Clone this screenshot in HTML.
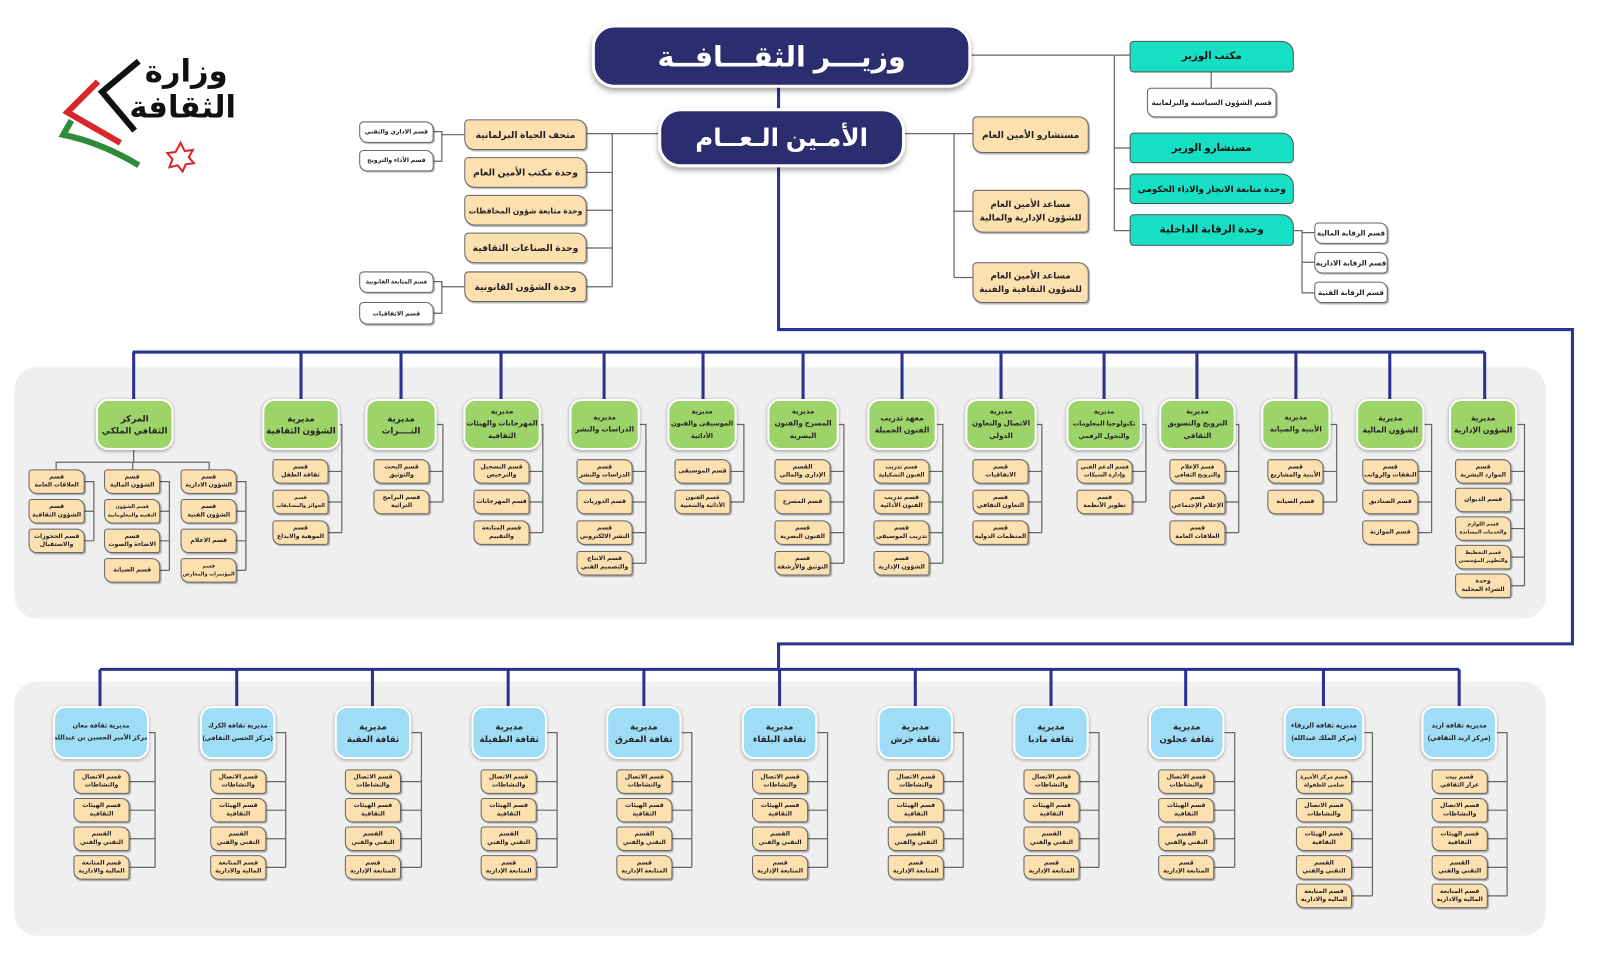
<!DOCTYPE html>
<html lang="ar"><head><meta charset="utf-8">
<style>
*{margin:0;padding:0;box-sizing:border-box}
body{width:1600px;height:957px;background:#fff;position:relative;overflow:hidden;font-family:"Liberation Sans","DejaVu Sans",sans-serif;font-weight:bold;color:#222}
#w{position:absolute;left:0;top:0;width:1568px;height:938px;transform:scale(1.0204);transform-origin:0 0}
.a{position:absolute;display:flex;align-items:center;justify-content:center;text-align:center;direction:rtl;white-space:nowrap;overflow:hidden}
.p{position:absolute;background:#efefef;border-radius:22px}
.nv{background:#2b2d6e;color:#fff;border-radius:22px;border:3px solid #fff;box-shadow:0 3px 5px rgba(0,0,0,.35);font-size:28px}
.cy{background:#16dfc4;border:1px solid #555;border-radius:4px 12px 4px 4px;font-size:10px;color:#111}
.tn{background:#fde0b0;border:1px solid #666;border-radius:4px 10px 4px 10px;font-size:9px;line-height:13px;box-shadow:1px 1px 1px rgba(0,0,0,.3)}
.wt{background:#fff;border:1px solid #666;border-radius:4px 8px 4px 8px;font-size:7px;box-shadow:1px 1px 1px rgba(0,0,0,.3)}
.g{background:#9dd46a;border:2px solid #fff;border-radius:12px;font-size:8.5px;line-height:12px;box-shadow:0 1px 3px rgba(0,0,0,.3);color:#222}
.b{background:#9fdcf6;border:2px solid #fff;border-radius:12px;font-size:8.5px;line-height:12px;box-shadow:0 1px 3px rgba(0,0,0,.3);color:#222}
.s{width:55px;height:24px;background:#fde0b0;border:1px solid #666;border-radius:3px 8px 3px 8px;font-size:6px;line-height:8.5px;box-shadow:1px 1px 1px rgba(0,0,0,.3)}
svg{position:absolute;left:0;top:0}
</style></head><body><div id="w">
<div class="p" style="left:14px;top:360px;width:1501px;height:246px"></div>
<div class="p" style="left:14px;top:668px;width:1501px;height:249px"></div>

<svg width="1568" height="938">
<g fill="none" stroke="#666" stroke-width="1.2">
<path d="M950 54H1092V226M1092 145H1107M1092 185H1107M1092 226H1107M1092 54H1107M1187 71V86M1268 226H1276V287M1276 228H1288M1276 257H1288M1276 287H1288"/>
<path d="M885 131H953M935 131V272M935 207H953M935 272H953"/>
<path d="M647 131H575M600 131V281M575 169H600M575 206H600M575 243H600M575 281H600M455 132H433M425 129H433V158H425M455 281H433M425 276H433V307H425"/>
<path d="M333 416H335V522M322 462H335M322 492H335M322 522H335
M428 416H434V492M421 462H434M421 492H434
M530 416H532V522M519 462H532M519 492H532M519 522H532
M627 416H633V552M620 462H633M620 492H633M620 522H633M620 552H633
M722 416H729V492M716 462H729M716 492H729
M822 416H827V552M814 462H827M814 492H827M814 522H827M814 552H827
M918 416H924V552M911 462H924M911 492H924M911 522H924M911 552H924
M1016 416H1021V522M1008 462H1021M1008 492H1021M1008 522H1021
M1119 416H1123V492M1110 462H1123M1110 492H1123
M1211 416H1214V522M1201 462H1214M1201 492H1214M1201 522H1214
M1304 416H1310V492M1297 462H1310M1297 492H1310
M1396 416H1403V522M1390 462H1403M1390 492H1403M1390 522H1403
M1487 416H1494V574M1481 462H1494M1481 490H1494M1481 518H1494M1481 546H1494M1481 574H1494
M131 441V453M55 460V453H205V460M130 453V460
M83 472H92V530M83 501H92M83 530H92
M157 472H166V559M157 501H166M157 530H166M157 559H166
M232 472H241V559M232 501H241M232 530H241M232 559H241"/>
<path d="M146 718H152V850M127 766H152M127 794H152M127 822H152M127 850H152
M270 718H280V850M261 766H280M261 794H280M261 822H280M261 850H280
M403 718H413V850M393 766H413M393 794H413M393 822H413M393 850H413
M536 718H546V850M526 766H546M526 794H546M526 822H546M526 850H546
M668 718H678V850M659 766H678M659 794H678M659 822H678M659 850H678
M801 718H811V850M792 766H811M792 794H811M792 822H811M792 850H811
M934 718H944V850M925 766H944M925 794H944M925 822H944M925 850H944
M1067 718H1077V850M1058 766H1077M1058 794H1077M1058 822H1077M1058 850H1077
M1200 718H1210V850M1190 766H1210M1190 794H1210M1190 822H1210M1190 850H1210
M1337 718H1345V878M1325 766H1345M1325 794H1345M1325 822H1345M1325 850H1345M1325 878H1345
M1467 718H1477V878M1458 766H1477M1458 794H1477M1458 822H1477M1458 850H1477M1458 878H1477"/>
</g>
<g fill="none" stroke="#2b3290" stroke-width="3">
<path d="M763 84V108M763 162V323H1541V631H763V656M98 656H1430M130 345H1455"/>
<path d="M131 345V391M295 345V391M393 345V391M491 345V391M592 345V391M689 345V391M787 345V391M884 345V391M981 345V391M1082 345V391M1173 345V391M1270 345V391M1362 345V391M1455 345V391"/>
<path d="M98 656V692M232 656V692M365 656V692M498 656V692M631 656V692M764 656V692M897 656V692M1030 656V692M1162 656V692M1297 656V692M1430 656V692"/>
</g>
<g fill="none" stroke-linejoin="miter">
<path d="M136 60L100 90 132 128" stroke="#111" stroke-width="6"/>
<path d="M96 80L66 110 118 140" stroke="#d9262b" stroke-width="6"/>
<path d="M70 118L62 132Q100 140 136 162" stroke="#2e8b3a" stroke-width="6"/>
<polygon points="177,140 181,148 189,147 185,154 190,160 182,161 179,168 174,162 166,164 169,156 164,150 172,149" stroke="#d9262b" stroke-width="2"/>
</g>
</svg>
<div class="a" style="left:135px;top:52px;width:95px;height:36px;font-size:30px;color:#111">وزارة</div>
<div class="a" style="left:125px;top:86px;width:108px;height:38px;font-size:30px;color:#111">الثقافة</div>

<div class="a nv" style="left:580px;top:24px;width:372px;height:62px">وزيـــر الثقـــافــة</div>
<div class="a nv" style="left:645px;top:106px;width:242px;height:58px;font-size:24px">الأمـين الـعــام</div>

<div class="a cy" style="left:1107px;top:40px;width:161px;height:31px">مكتب الوزير</div>
<div class="a wt" style="left:1124px;top:86px;width:127px;height:29px;font-size:7px">قسم الشؤون السياسية والبرلمانية</div>
<div class="a cy" style="left:1107px;top:130px;width:161px;height:30px">مستشارو الوزير</div>
<div class="a cy" style="left:1107px;top:170px;width:161px;height:30px;font-size:8.5px">وحدة متابعة الانجاز والاداء الحكومي</div>
<div class="a cy" style="left:1107px;top:210px;width:161px;height:31px">وحدة الرقابة الداخلية</div>
<div class="a wt" style="left:1288px;top:218px;width:72px;height:21px">قسم الرقابة المالية</div>
<div class="a wt" style="left:1288px;top:247px;width:72px;height:21px">قسم الرقابة الادارية</div>
<div class="a wt" style="left:1288px;top:276px;width:72px;height:21px">قسم الرقابة الفنية</div>

<div class="a tn" style="left:953px;top:114px;width:114px;height:36px">مستشارو الأمين العام</div>
<div class="a tn" style="left:953px;top:186px;width:114px;height:42px;font-size:8.5px">مساعد الأمين العام<br>للشؤون الإدارية والمالية</div>
<div class="a tn" style="left:953px;top:257px;width:114px;height:40px;font-size:8.5px">مساعد الأمين العام<br>للشؤون الثقافية والفنية</div>

<div class="a tn" style="left:455px;top:117px;width:120px;height:30px">متحف الحياة البرلمانية</div>
<div class="a tn" style="left:455px;top:154px;width:120px;height:30px">وحدة مكتب الأمين العام</div>
<div class="a tn" style="left:455px;top:191px;width:120px;height:30px;font-size:7.5px">وحدة متابعة شؤون المحافظات</div>
<div class="a tn" style="left:455px;top:228px;width:120px;height:30px">وحدة الصناعات الثقافية</div>
<div class="a tn" style="left:455px;top:266px;width:120px;height:30px">وحدة الشؤون القانونية</div>
<div class="a wt" style="left:352px;top:119px;width:73px;height:21px;font-size:6px">قسم الاداري والتقني</div>
<div class="a wt" style="left:352px;top:147px;width:73px;height:21px;font-size:6px">قسم الأداء والترويج</div>
<div class="a wt" style="left:352px;top:266px;width:73px;height:21px;font-size:5.5px">قسم المتابعة القانونية</div>
<div class="a wt" style="left:352px;top:296px;width:73px;height:22px;font-size:6px">قسم الاتفاقيات</div>

<div class="a g" style="left:94px;top:391px;width:76px;height:50px">المركز<br>الثقافي الملكي</div>
<div class="a g" style="left:257px;top:391px;width:76px;height:50px">مديرية<br>الشؤون الثقافية</div>
<div class="a g" style="left:358px;top:391px;width:70px;height:50px">مديرية<br>التــــراث</div>
<div class="a g" style="left:454px;top:391px;width:76px;height:50px;font-size:7px">مديرية<br>المهرجانات والهيئات<br>الثقافية</div>
<div class="a g" style="left:558px;top:391px;width:69px;height:50px;font-size:7px">مديرية<br>الدراسات والنشر</div>
<div class="a g" style="left:654px;top:391px;width:68px;height:50px;font-size:6.5px">مديرية<br>الموسيقى والفنون<br>الأدائية</div>
<div class="a g" style="left:752px;top:391px;width:70px;height:50px;font-size:7px">مديرية<br>المسرح والفنون<br>البصرية</div>
<div class="a g" style="left:850px;top:391px;width:68px;height:50px;font-size:7.5px">معهد تدريب<br>الفنون الجميلة</div>
<div class="a g" style="left:946px;top:391px;width:70px;height:50px;font-size:7px">مديرية<br>الاتصال والتعاون<br>الدولي</div>
<div class="a g" style="left:1045px;top:391px;width:74px;height:50px;font-size:6.3px">مديرية<br>تكنولوجيا المعلومات<br>والتحول الرقمي</div>
<div class="a g" style="left:1136px;top:391px;width:75px;height:50px;font-size:7px">مديرية<br>الترويج والتسويق<br>الثقافي</div>
<div class="a g" style="left:1236px;top:391px;width:68px;height:50px;font-size:7px">مديرية<br>الأبنية والصيانة</div>
<div class="a g" style="left:1329px;top:391px;width:67px;height:50px;font-size:7.5px">مديرية<br>الشؤون المالية</div>
<div class="a g" style="left:1420px;top:391px;width:67px;height:50px;font-size:7.5px">مديرية<br>الشؤون الإدارية</div>

<div class="a s" style="left:28px;top:460px">قسم<br>العلاقات العامة</div>
<div class="a s" style="left:28px;top:489px">قسم<br>الشؤون الثقافية</div>
<div class="a s" style="left:28px;top:518px">قسم الحجوزات<br>والاستقبال</div>
<div class="a s" style="left:102px;top:460px">قسم<br>الشؤون المالية</div>
<div class="a s" style="left:102px;top:489px;font-size:5px">قسم الشؤون<br>التقنية والمعلوماتية</div>
<div class="a s" style="left:102px;top:518px">قسم<br>الاضاءة والصوت</div>
<div class="a s" style="left:102px;top:547px">قسم الصيانة</div>
<div class="a s" style="left:177px;top:460px">قسم<br>الشؤون الادارية</div>
<div class="a s" style="left:177px;top:489px">قسم<br>الشؤون الفنية</div>
<div class="a s" style="left:177px;top:518px">قسم الاعلام</div>
<div class="a s" style="left:177px;top:547px;font-size:5px">قسم<br>المؤتمرات والمعارض</div>

<div class="a s" style="left:267px;top:450px">قسم<br>ثقافة الطفل</div>
<div class="a s" style="left:267px;top:480px;font-size:5px">قسم<br>الجوائز والمسابقات</div>
<div class="a s" style="left:267px;top:510px">قسم<br>الموهبة والابداع</div>

<div class="a s" style="left:366px;top:450px">قسم البحث<br>والتوثيق</div>
<div class="a s" style="left:366px;top:480px">قسم البرامج<br>التراثية</div>

<div class="a s" style="left:464px;top:450px">قسم التسجيل<br>والترخيص</div>
<div class="a s" style="left:464px;top:480px">قسم المهرجانات</div>
<div class="a s" style="left:464px;top:510px">قسم المتابعة<br>والتقييم</div>

<div class="a s" style="left:565px;top:450px">قسم<br>الدراسات والنشر</div>
<div class="a s" style="left:565px;top:480px">قسم الدوريات</div>
<div class="a s" style="left:565px;top:510px">قسم<br>النشر الالكتروني</div>
<div class="a s" style="left:565px;top:540px">قسم الانتاج<br>والتصميم الفني</div>

<div class="a s" style="left:661px;top:450px">قسم الموسيقى</div>
<div class="a s" style="left:661px;top:480px;font-size:5.5px">قسم الفنون<br>الأدائية والشعبية</div>

<div class="a s" style="left:759px;top:450px">القسم<br>الإداري والمالي</div>
<div class="a s" style="left:759px;top:480px">قسم المسرح</div>
<div class="a s" style="left:759px;top:510px">قسم<br>الفنون البصرية</div>
<div class="a s" style="left:759px;top:540px">قسم<br>التوثيق والأرشفة</div>

<div class="a s" style="left:856px;top:450px;font-size:5.5px">قسم تدريب<br>الفنون التشكيلية</div>
<div class="a s" style="left:856px;top:480px">قسم تدريب<br>الفنون الأدائية</div>
<div class="a s" style="left:856px;top:510px">قسم<br>تدريب الموسيقى</div>
<div class="a s" style="left:856px;top:540px">قسم<br>الشؤون الإدارية</div>

<div class="a s" style="left:953px;top:450px">قسم<br>الاتفاقيات</div>
<div class="a s" style="left:953px;top:480px">قسم<br>التعاون الثقافي</div>
<div class="a s" style="left:953px;top:510px">قسم<br>المنظمات الدولية</div>

<div class="a s" style="left:1055px;top:450px;font-size:5.5px">قسم الدعم الفني<br>وإدارة الشبكات</div>
<div class="a s" style="left:1055px;top:480px">قسم<br>تطوير الأنظمة</div>

<div class="a s" style="left:1146px;top:450px;font-size:5.5px">قسم الإعلام<br>والترويج الثقافي</div>
<div class="a s" style="left:1146px;top:480px">قسم<br>الإعلام الإجتماعي</div>
<div class="a s" style="left:1146px;top:510px">قسم<br>العلاقات العامة</div>

<div class="a s" style="left:1242px;top:450px">قسم<br>الأبنية والمشاريع</div>
<div class="a s" style="left:1242px;top:480px">قسم الصيانة</div>

<div class="a s" style="left:1335px;top:450px">قسم<br>النفقات والرواتب</div>
<div class="a s" style="left:1335px;top:480px">قسم الصناديق</div>
<div class="a s" style="left:1335px;top:510px">قسم الموازنة</div>

<div class="a s" style="left:1426px;top:450px">قسم<br>الموارد البشرية</div>
<div class="a s" style="left:1426px;top:478px">قسم الديوان</div>
<div class="a s" style="left:1426px;top:506px;font-size:5px">قسم اللوازم<br>والخدمات المساندة</div>
<div class="a s" style="left:1426px;top:534px;font-size:5px">قسم التخطيط<br>والتطوير المؤسسي</div>
<div class="a s" style="left:1426px;top:562px">وحدة<br>الشراء المحلية</div>

<div class="a b" style="left:52px;top:692px;width:94px;height:52px;font-size:6.3px">مديرية ثقافة معان<br>(مركز الأمير الحسين بن عبدالله)</div>
<div class="a b" style="left:196px;top:692px;width:74px;height:52px;font-size:6.3px">مديرية ثقافة الكرك<br>(مركز الحسن الثقافي)</div>
<div class="a b" style="left:328px;top:692px;width:75px;height:52px">مديرية<br>ثقافة العقبة</div>
<div class="a b" style="left:462px;top:692px;width:74px;height:52px">مديرية<br>ثقافة الطفيلة</div>
<div class="a b" style="left:594px;top:692px;width:74px;height:52px">مديرية<br>ثقافة المفرق</div>
<div class="a b" style="left:727px;top:692px;width:74px;height:52px">مديرية<br>ثقافة البلقاء</div>
<div class="a b" style="left:860px;top:692px;width:74px;height:52px">مديرية<br>ثقافة جرش</div>
<div class="a b" style="left:993px;top:692px;width:74px;height:52px">مديرية<br>ثقافة مادبا</div>
<div class="a b" style="left:1126px;top:692px;width:74px;height:52px">مديرية<br>ثقافة عجلون</div>
<div class="a b" style="left:1258px;top:692px;width:79px;height:52px;font-size:6.5px">مديرية ثقافة الزرقاء<br>(مركز الملك عبدالله)</div>
<div class="a b" style="left:1393px;top:692px;width:74px;height:52px;font-size:6.5px">مديرية ثقافة اربد<br>(مركز اربد الثقافي)</div>

<div class="a s" style="left:72px;top:754px">قسم الاتصال<br>والنشاطات</div>
<div class="a s" style="left:72px;top:782px">قسم الهيئات<br>الثقافية</div>
<div class="a s" style="left:72px;top:810px">القسم<br>التقني والفني</div>
<div class="a s" style="left:72px;top:838px">قسم المتابعة<br>المالية والادارية</div>

<div class="a s" style="left:206px;top:754px">قسم الاتصال<br>والنشاطات</div>
<div class="a s" style="left:206px;top:782px">قسم الهيئات<br>الثقافية</div>
<div class="a s" style="left:206px;top:810px">القسم<br>التقني والفني</div>
<div class="a s" style="left:206px;top:838px">قسم المتابعة<br>المالية والادارية</div>

<div class="a s" style="left:338px;top:754px">قسم الاتصال<br>والنشاطات</div>
<div class="a s" style="left:338px;top:782px">قسم الهيئات<br>الثقافية</div>
<div class="a s" style="left:338px;top:810px">القسم<br>التقني والفني</div>
<div class="a s" style="left:338px;top:838px">قسم<br>المتابعة الإدارية</div>

<div class="a s" style="left:471px;top:754px">قسم الاتصال<br>والنشاطات</div>
<div class="a s" style="left:471px;top:782px">قسم الهيئات<br>الثقافية</div>
<div class="a s" style="left:471px;top:810px">القسم<br>التقني والفني</div>
<div class="a s" style="left:471px;top:838px">قسم<br>المتابعة الإدارية</div>

<div class="a s" style="left:604px;top:754px">قسم الاتصال<br>والنشاطات</div>
<div class="a s" style="left:604px;top:782px">قسم الهيئات<br>الثقافية</div>
<div class="a s" style="left:604px;top:810px">القسم<br>التقني والفني</div>
<div class="a s" style="left:604px;top:838px">قسم<br>المتابعة الإدارية</div>

<div class="a s" style="left:737px;top:754px">قسم الاتصال<br>والنشاطات</div>
<div class="a s" style="left:737px;top:782px">قسم الهيئات<br>الثقافية</div>
<div class="a s" style="left:737px;top:810px">القسم<br>التقني والفني</div>
<div class="a s" style="left:737px;top:838px">قسم<br>المتابعة الإدارية</div>

<div class="a s" style="left:870px;top:754px">قسم الاتصال<br>والنشاطات</div>
<div class="a s" style="left:870px;top:782px">قسم الهيئات<br>الثقافية</div>
<div class="a s" style="left:870px;top:810px">القسم<br>التقني والفني</div>
<div class="a s" style="left:870px;top:838px">قسم<br>المتابعة الإدارية</div>

<div class="a s" style="left:1003px;top:754px">قسم الاتصال<br>والنشاطات</div>
<div class="a s" style="left:1003px;top:782px">قسم الهيئات<br>الثقافية</div>
<div class="a s" style="left:1003px;top:810px">القسم<br>التقني والفني</div>
<div class="a s" style="left:1003px;top:838px">قسم<br>المتابعة الإدارية</div>

<div class="a s" style="left:1135px;top:754px">قسم الاتصال<br>والنشاطات</div>
<div class="a s" style="left:1135px;top:782px">قسم الهيئات<br>الثقافية</div>
<div class="a s" style="left:1135px;top:810px">القسم<br>التقني والفني</div>
<div class="a s" style="left:1135px;top:838px">قسم<br>المتابعة الإدارية</div>

<div class="a s" style="left:1270px;top:754px;font-size:5.3px">قسم مركز الأميرة<br>سلمى للطفولة</div>
<div class="a s" style="left:1270px;top:782px">قسم الاتصال<br>والنشاطات</div>
<div class="a s" style="left:1270px;top:810px">قسم الهيئات<br>الثقافية</div>
<div class="a s" style="left:1270px;top:838px">القسم<br>التقني والفني</div>
<div class="a s" style="left:1270px;top:866px">قسم المتابعة<br>المالية والادارية</div>

<div class="a s" style="left:1403px;top:754px">قسم بيت<br>عرار الثقافي</div>
<div class="a s" style="left:1403px;top:782px">قسم الاتصال<br>والنشاطات</div>
<div class="a s" style="left:1403px;top:810px">قسم الهيئات<br>الثقافية</div>
<div class="a s" style="left:1403px;top:838px">القسم<br>التقني والفني</div>
<div class="a s" style="left:1403px;top:866px">قسم المتابعة<br>المالية والادارية</div>
</div></body></html>
